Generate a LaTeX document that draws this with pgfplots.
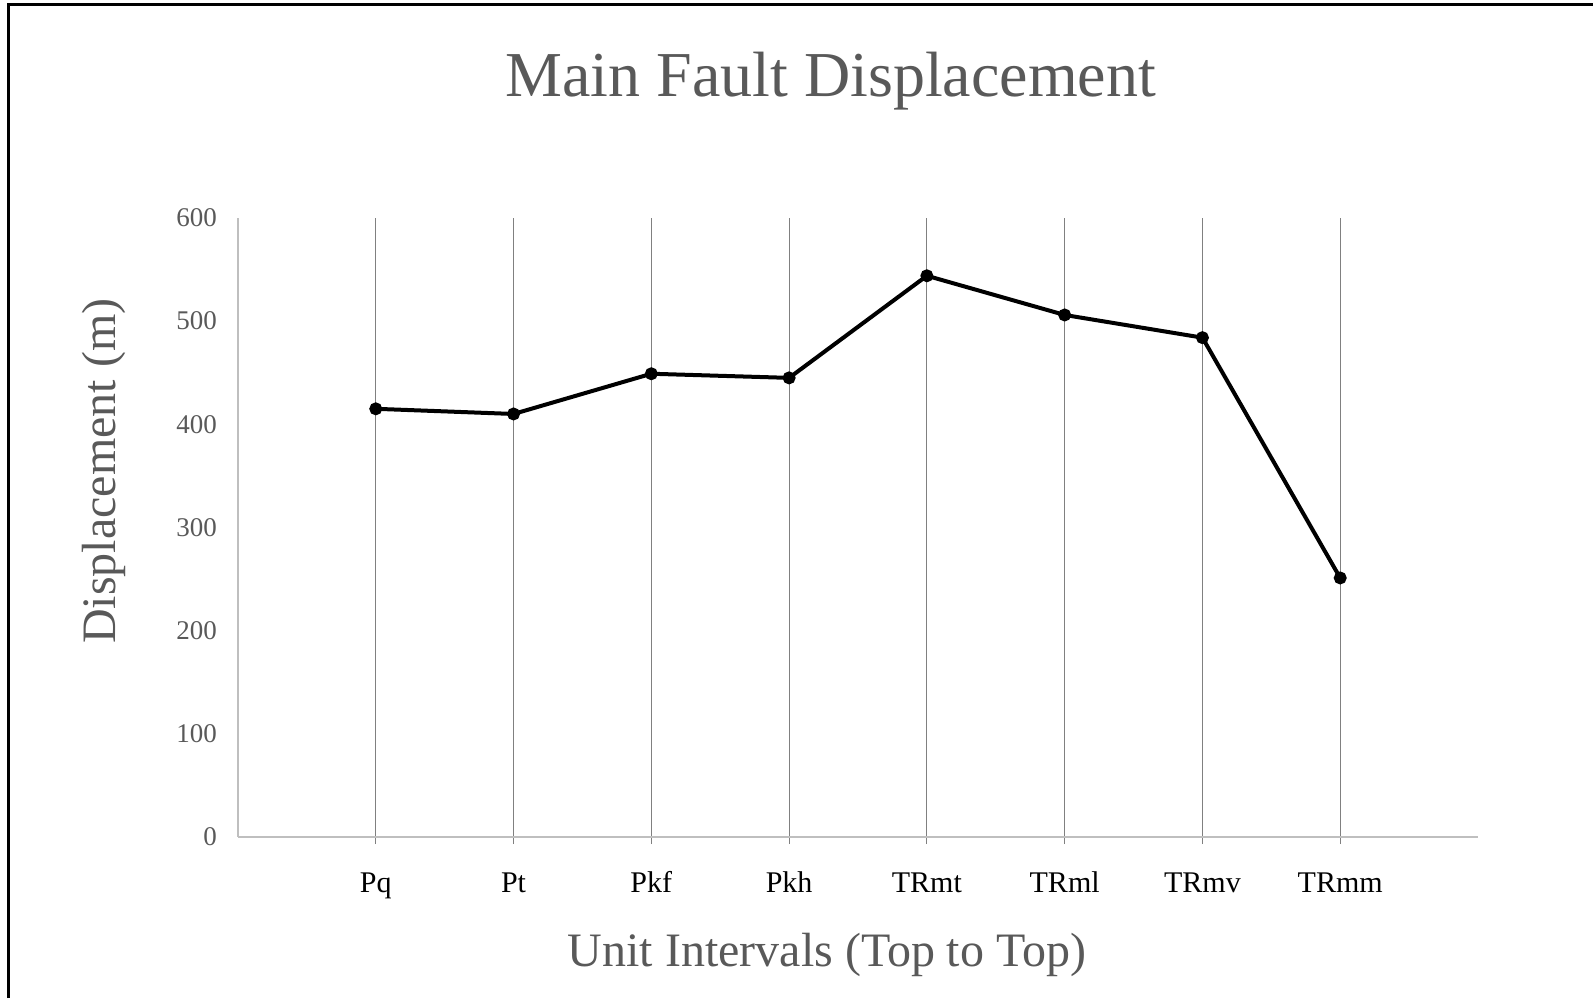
\documentclass[border=0pt]{standalone}
\usepackage{fontspec}
\setmainfont{Liberation Serif}
\usepackage{pgfplots}
\pgfplotsset{compat=1.18}
\definecolor{txtgray}{HTML}{595959}
\definecolor{axgray}{HTML}{BFBFBF}
\definecolor{grdgray}{HTML}{808080}

\begin{document}
\begin{tikzpicture}
% page = 1593 x 998 px at 0.25pt per px
\path[use as bounding box] (0,0) rectangle (398.25pt,249.5pt);
\draw[line width=0.75pt] (2pt,0) -- (2pt,248.25pt) -- (398.25pt,248.25pt);
\begin{axis}[
    at={(59.5pt,40.3pt)}, anchor=south west,
    scale only axis,
    width=310pt, height=154.7pt,
    xmin=-1, xmax=8,
    ymin=0, ymax=600,
    xtick={0,...,7},
    xticklabels={Pq,Pt,Pkf,Pkh,TRmt,TRml,TRmv,TRmm},
    ytick={0,100,...,600},
    axis x line*=bottom, axis y line*=left,
    axis line style={axgray, line width=0.5pt},
    x axis line style={-}, y axis line style={-},
    xmajorgrids,
    major grid style={grdgray, line width=0.3pt},
    x tick style={grdgray, line width=0.3pt},
    xtick pos=bottom, xtick align=outside,
    major tick length=1.8pt,
    y tick style={draw=none},
    /pgf/number format/assume math mode=true,
    xticklabel style={font=\fontsize{7.5}{9}\selectfont, text=black, anchor=base, yshift=-12.2pt},
    yticklabel style={font=\fontsize{6.75}{8}\selectfont, text=txtgray, inner xsep=0pt, xshift=-5.1pt},
    title={Main Fault Displacement},
    title style={font=\fontsize{16}{19}\selectfont, text=txtgray, at={(rel axis cs:0.478,1.196)}, anchor=base, yshift=-6pt, inner sep=0pt},
    xlabel={Unit Intervals (Top to Top)},
    xlabel style={font=\fontsize{12}{14}\selectfont, text=txtgray, at={(rel axis cs:0.475,-0.21)}, anchor=base, inner sep=0pt},
    ylabel={Displacement (m)},
    ylabel style={font=\fontsize{12}{14}\selectfont, text=txtgray, at={(rel axis cs:-0.099,0.591)}, anchor=base, rotate=0, inner sep=0pt},
    clip=false,
]
\addplot[black, line width=1pt, mark=*, mark size=1.1pt] coordinates {
    (0,415) (1,410) (2,449) (3,445) (4,544) (5,506) (6,484) (7,251)
};
\end{axis}
\end{tikzpicture}
\end{document}
